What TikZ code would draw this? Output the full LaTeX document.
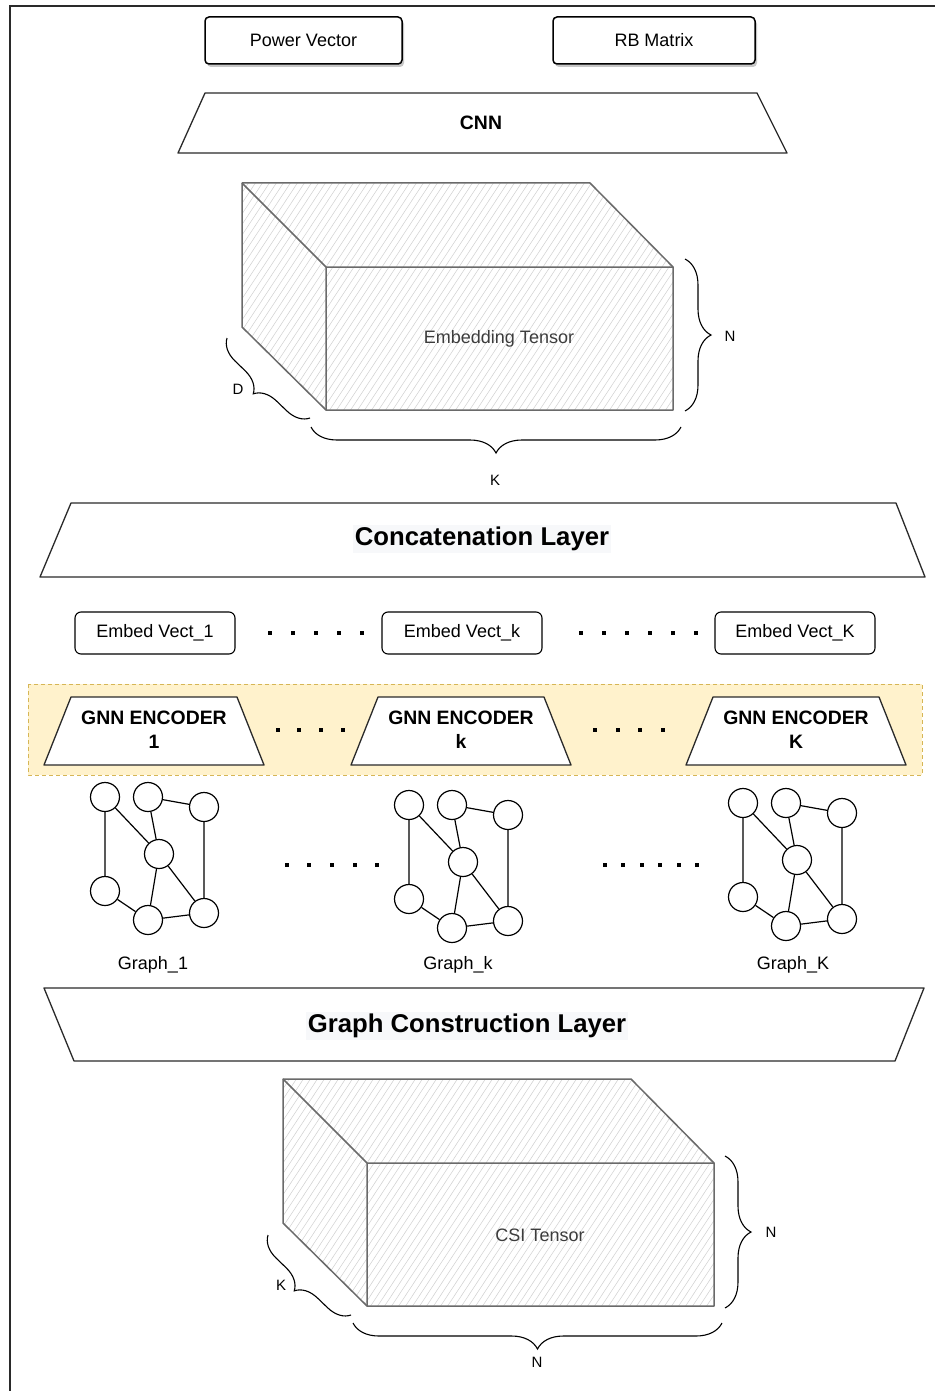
\documentclass[tikz,border=0pt]{standalone}
\usepackage{fontspec}
\setmainfont{Liberation Sans}
\usetikzlibrary{decorations.pathreplacing,shadows}

\definecolor{bandfill}{HTML}{FFF2CC}
\definecolor{banddraw}{HTML}{D6B656}
\definecolor{edgegray}{HTML}{6A6A6A}
\definecolor{hatchgray}{HTML}{D0D0D0}
\definecolor{textgray}{HTML}{3C3C3C}
\definecolor{labelbg}{HTML}{F7F8FA}
\definecolor{linedark}{HTML}{2A2A2A}

\newcommand\szbody{\fontsize{18}{21}\selectfont}
\newcommand\szhead{\fontsize{19.4}{24}\selectfont\bfseries}
\newcommand\szlayer{\fontsize{25.7}{30}\selectfont\bfseries}
\newcommand\szdim{\fontsize{15}{17}\selectfont}

% A hatched box seen in perspective, with its caption on the front face
\newcommand\tensorsolid[2]{%
  \coordinate (#1A) at (242,183);
  \coordinate (#1B) at (590,183);
  \coordinate (#1C) at (673,267);
  \coordinate (#1D) at (326,267);
  \coordinate (#1E) at (326,410);
  \coordinate (#1F) at (673,410);
  \coordinate (#1G) at (242,327);
  \begin{scope}
    \clip (#1A) -- (#1B) -- (#1C) -- (#1F) -- (#1E) -- (#1G) -- cycle;
    \foreach \hx in {50,57,...,690} \draw[hatch] (\hx,420) -- ++(165,-250);
  \end{scope}
  \draw[tensoredge] (#1A) -- (#1B) -- (#1C) -- (#1F) -- (#1E) -- (#1G) -- cycle;
  \draw[tensoredge] (#1A) -- (#1D) -- (#1C) (#1D) -- (#1E);
  \node[font=\szbody, text=textgray] (#1label) at (499,339) {#2};
}

\tikzset{
  inputbox/.style={draw=black, line width=1.5pt, rounded corners=4pt, fill=white,
    minimum height=47pt, font=\szbody,
    drop shadow={shadow xshift=2pt, shadow yshift=-3pt, fill=black!22, opacity=1}},
  vecbox/.style={draw=black, line width=1.1pt, rounded corners=6pt, fill=white,
    minimum width=160pt, minimum height=42pt, font=\szbody},
  layer/.style={draw=linedark, line width=1.3pt, fill=white, line join=round},
  layertext/.style={font=\szlayer, fill=labelbg, inner sep=2pt},
  enctext/.style={font=\szhead, align=center},
  gn/.style={circle, draw=black, line width=1.2pt, minimum size=29pt, inner sep=0pt, fill=white},
  gedge/.style={line width=1.2pt},
  hatch/.style={hatchgray, line width=0.5pt},
  tensoredge/.style={edgegray, line width=1.5pt, line join=round},
  dimbrace/.style={decorate, decoration={brace, amplitude=#1}, line width=1.1pt},
  dimbrace/.default=26pt,
  dimlabel/.style={font=\szdim},
  graphlabel/.style={font=\szbody},
  netgraph/.pic={
    \node[gn] (-a) at (0,0) {};
    \node[gn] (-b) at (43,0) {};
    \node[gn] (-c) at (99,10) {};
    \node[gn] (-d) at (54,57) {};
    \node[gn] (-e) at (0,94) {};
    \node[gn] (-f) at (43,123) {};
    \node[gn] (-g) at (99,116) {};
    \draw[gedge] (-a) -- (-e) (-a) -- (-d) (-b) -- (-d) (-b) -- (-c)
      (-c) -- (-g) (-d) -- (-f) (-d) -- (-g) (-e) -- (-f) (-f) -- (-g);
  }
}

\begin{document}
\begin{tikzpicture}[x=1pt, y=-1pt]
  \useasboundingbox (0,0) rectangle (935,1391);
  \fill[white] (0,0) rectangle (935,1391);

  % page frame (top and left edges)
  \draw[linedark, line width=1.5pt] (10,1391) -- (10,6) -- (935,6);

  % inputs
  \node[inputbox, minimum width=197pt] (power) at (303.5,40.5) {Power Vector};
  \node[inputbox, minimum width=202pt] (rb) at (654,40.5) {RB Matrix};

  % CNN layer
  \draw[layer] (205,93) -- (757,93) -- (787,153) -- (178,153) -- cycle;
  \node[font=\szhead] (cnn) at (481,123) {CNN};

  % embedding tensor
  \tensorsolid{emb}{Embedding Tensor}
  \draw[dimbrace] (685,259) -- (685,411);
  \node[dimlabel] (embN) at (730,336) {N};
  \draw[dimbrace] (681,427) -- (311,427);
  \node[dimlabel] (embK) at (495,480) {K};
  \draw[dimbrace=22pt] (310,418) -- (227,338);
  \node[dimlabel] (embD) at (238,389) {D};

  % concatenation layer
  \draw[layer] (71,503) -- (896,503) -- (925,577) -- (40,577) -- cycle;
  \node[layertext] (concat) at (482,539) {Concatenation Layer};

  % embedding vectors
  \node[vecbox] (ev1) at (155,633) {Embed Vect\_1};
  \node[vecbox] (evk) at (462,633) {Embed Vect\_k};
  \node[vecbox] (evK) at (795,633) {Embed Vect\_K};
  \foreach \dx in {270,293,316,339,362} \fill (\dx-2,631) rectangle (\dx+2,635);
  \foreach \dx in {581,604,627,650,673,696} \fill (\dx-2,631) rectangle (\dx+2,635);

  % GNN encoder band
  \draw[banddraw, fill=bandfill, line width=1pt, dash pattern=on 4pt off 3pt]
    (28,684) rectangle (922,775);
  \foreach \cx/\nm/\lb in {154/enc1/1, 461/enck/k, 796/encK/K} {
    \draw[layer] (\cx-83,697) -- (\cx+83,697) -- (\cx+110,765) -- (\cx-110,765) -- cycle;
    \node[enctext] (\nm) at (\cx,730) {GNN ENCODER\\\lb};
  }
  \foreach \dx in {278,299,321,343} \fill (\dx-2,728) rectangle (\dx+2,732);
  \foreach \dx in {595,618,640,663} \fill (\dx-2,728) rectangle (\dx+2,732);

  % graphs
  \pic (g1) at (105,797) {netgraph};
  \pic (gk) at (409,805) {netgraph};
  \pic (gK) at (743,803) {netgraph};
  \foreach \dx in {287,309,332,355,377} \fill (\dx-2,863) rectangle (\dx+2,867);
  \foreach \dx in {605,623,642,660,679,697} \fill (\dx-2,863) rectangle (\dx+2,867);
  \node[graphlabel] (lg1) at (153,965) {Graph\_1};
  \node[graphlabel] (lgk) at (458,965) {Graph\_k};
  \node[graphlabel] (lgK) at (793,965) {Graph\_K};

  % graph construction layer
  \draw[layer] (44,988) -- (924,988) -- (895,1061) -- (74,1061) -- cycle;
  \node[layertext] (gcl) at (467,1026) {Graph Construction Layer};

  % CSI tensor
  \begin{scope}[shift={(41,896)}]
    \tensorsolid{csi}{CSI Tensor}
  \end{scope}
  \draw[dimbrace] (725,1156) -- (725,1308);
  \node[dimlabel] (csiN) at (771,1232) {N};
  \draw[dimbrace] (722,1323) -- (353,1323);
  \node[dimlabel] (csiNb) at (537,1362) {N};
  \draw[dimbrace=22pt] (351,1315) -- (268,1235);
  \node[dimlabel] (csiK) at (281,1285) {K};
\end{tikzpicture}
\end{document}
